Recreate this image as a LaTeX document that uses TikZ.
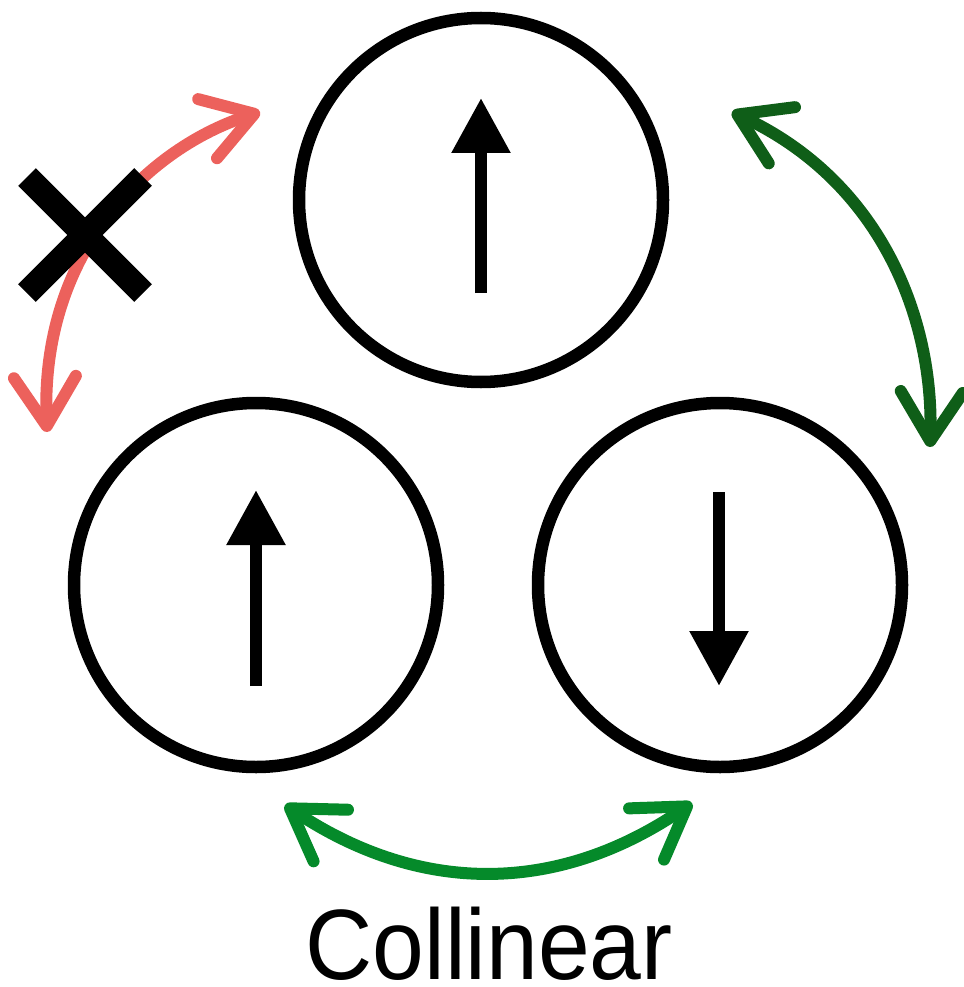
\documentclass[tikz,border=0pt]{standalone}
\usepackage{fontspec}
\setmainfont{Liberation Sans}
\usetikzlibrary{arrows.meta}
\definecolor{redarr}{HTML}{EC615C}
\definecolor{darkgreen}{HTML}{0F5E18}
\definecolor{midgreen}{HTML}{058A2A}
\begin{document}
\begin{tikzpicture}[x=1pt,y=-1pt,
  spin/.style={circle,draw=black,line width=12.5pt,minimum size=364pt,inner sep=0pt},
  spinarrow/.style={line width=12pt,-{Triangle[length=55pt,width=56pt]}},
  barb/.style={line width=12pt,{Straight Barb[length=49pt,width=62pt,line cap=round,line join=round]}-{Straight Barb[length=49pt,width=62pt,line cap=round,line join=round]}},
  cross/.style={line width=25pt,line cap=butt}]
\useasboundingbox (0,0) rectangle (963,987);
% circles
\node[spin] (top) at (481,200) {};
\node[spin] (bl) at (256,585) {};
\node[spin] (br) at (720,585) {};
% spin arrows
\coordinate (topS) at (481,293); \coordinate (topE) at (481,98);
\coordinate (blS) at (256,686); \coordinate (blE) at (256,490);
\coordinate (brS) at (719,492); \coordinate (brE) at (719,686);
\draw[spinarrow] (topS) -- (topE);
\draw[spinarrow] (blS) -- (blE);
\draw[spinarrow] (brS) -- (brE);
% green arrows
\coordinate (g1a) at (732,112); \coordinate (g1b) at (930,447);
\draw[barb,darkgreen] (g1a) .. controls (882,182) and (934,320) .. (g1b);
\coordinate (g2a) at (285,805); \coordinate (g2b) at (692,803);
\draw[barb,midgreen] (g2a) .. controls (420,895) and (557,895) .. (g2b);
% red arrow
\coordinate (r1a) at (260,112); \coordinate (r1b) at (47,432);
\draw[barb,redarr] (r1a) .. controls (150,147) and (40,250) .. (r1b);
% cross
\coordinate (xc) at (85,235);
\draw[cross] (27,177) -- (143,293);
\draw[cross] (143,177) -- (27,293);
% label
\node[inner sep=0pt,anchor=base,text depth=0pt,font=\fontsize{100}{110}\selectfont,xscale=0.93] (lab) at (489,979) {Collinear};
\end{tikzpicture}
\end{document}
